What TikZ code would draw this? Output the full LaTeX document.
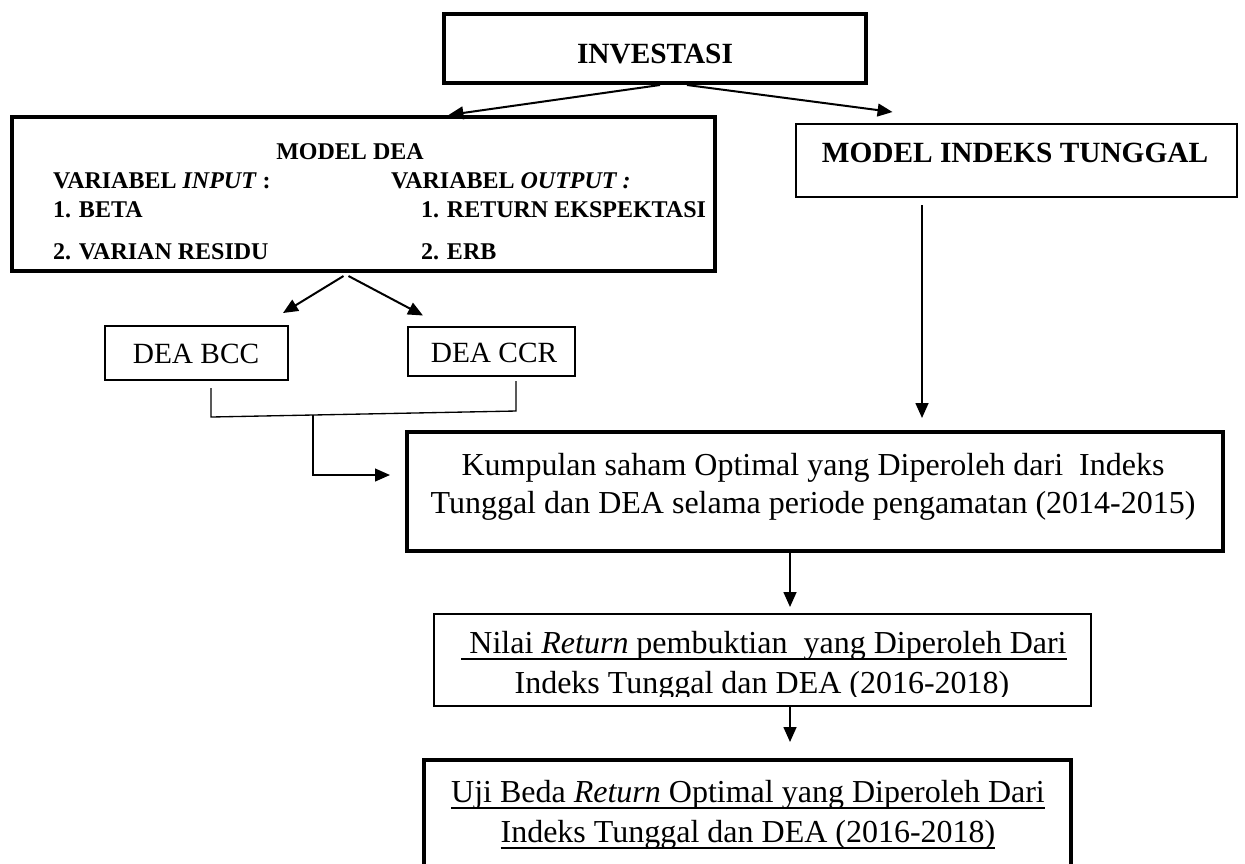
\documentclass[tikz,border=0pt]{standalone}
\usepackage{fontspec}
\setmainfont{Liberation Serif}
\newcommand{\myul}[1]{\setbox0\hbox{#1}\rlap{\vrule height -1.9pt depth 2.6pt width \wd0}\box0}
\usetikzlibrary{arrows.meta,calc}
\begin{document}
\begin{tikzpicture}[x=0.375pt,y=-0.375pt,
  thickbox/.style={draw, line width=1.75pt, inner sep=0pt, outer sep=0pt},
  thinbox/.style={draw, line width=0.85pt, inner sep=0pt, outer sep=0pt},
  lbl/.style={inner sep=0pt, outer sep=0pt, anchor=base},
  lblw/.style={inner sep=0pt, outer sep=0pt, anchor=base west},
  bigbold/.style={font=\fontsize{11}{13}\selectfont\bfseries},
  smallbold/.style={font=\fontsize{9}{11}\selectfont\bfseries},
  mid/.style={font=\fontsize{11}{13}\selectfont},
  body/.style={font=\fontsize{12}{14}\selectfont},
  arr/.style={line width=0.75pt, -{Triangle[length=5.6pt,width=4.8pt]}},
  thinline/.style={line width=0.5pt},
]
\clip (0,0) rectangle (1245,863);

% boxes
\node[thickbox, minimum width=422*0.375pt, minimum height=69*0.375pt] (inv) at (655,48.5) {};
\node[thickbox, minimum width=703*0.375pt, minimum height=154*0.375pt] (dea) at (363.5,194) {};
\node[thinbox, minimum width=441*0.375pt, minimum height=73*0.375pt] (mit) at (1016.5,160.5) {};
\node[thinbox, minimum width=183*0.375pt, minimum height=54*0.375pt] (bcc) at (196.5,353) {};
\node[thinbox, minimum width=167*0.375pt, minimum height=49*0.375pt] (ccr) at (491.5,351.5) {};
\node[thickbox, minimum width=816*0.375pt, minimum height=119*0.375pt] (kum) at (815,491.5) {};
\node[thinbox, minimum width=657*0.375pt, minimum height=92*0.375pt] (nil) at (762.5,660) {};
\node[thickbox, minimum width=647*0.375pt, minimum height=160*0.375pt] (uji) at (747.5,840) {};

% texts
\node[lbl, bigbold] (invt) at (655,63) {INVESTASI};
\node[lbl, bigbold] (mitt) at (1015,162) {MODEL INDEKS TUNGGAL};

\node[lbl, smallbold] (deat) at (350,159) {MODEL DEA};
\node[lblw, smallbold] (vin) at (53,188) {VARIABEL \textit{INPUT} :};
\node[lblw, smallbold] (vout) at (391,188) {VARIABEL \textit{OUTPUT :}};
\node[lblw, smallbold] (beta) at (53,217) {1. BETA};
\node[lblw, smallbold] (ret) at (421,217) {1. RETURN EKSPEKTASI};
\node[lblw, smallbold] (var) at (53,259) {2. VARIAN RESIDU};
\node[lblw, smallbold] (erb) at (421,259) {2. ERB};

\node[lbl, mid] (bcct) at (196,363) {DEA BCC};
\node[lbl, mid] (ccrt) at (494,362) {DEA CCR};

\node[lbl, body] (kum1) at (813,475) {Kumpulan saham Optimal yang Diperoleh dari\ \ Indeks};
\node[lbl, body] (kum2) at (813,513) {Tunggal dan DEA selama periode pengamatan (2014-2015)};

\begin{scope}
\clip (434,614) rectangle (1091,696);
\node[lbl, body] (nil1) at (764,653) {\myul{\ Nilai \textit{Return} pembuktian\ \ yang Diperoleh Dari}};
\node[lbl, body] (nil2) at (762,693) {\myul{Indeks Tunggal dan DEA (2016-2018)}};
\end{scope}

\node[lbl, body] (uji1) at (748,802) {\myul{Uji Beda \textit{Return} Optimal yang Diperoleh Dari}};
\node[lbl, body] (uji2) at (748,842) {\myul{Indeks Tunggal dan DEA (2016-2018)}};

% connectors
\draw[arr] ($(inv.south)+(5,2)$) -- ($(dea.north)+(85,-2)$);
\draw[arr] ($(inv.south)+(32,2)$) -- ($(mit.north)+(-124,-12)$);
\draw[arr] ($(dea.south)+(-20,5)$) -- ($(bcc.north)+(86.5,-13)$);
\draw[arr] ($(dea.south)+(-15,5)$) -- ($(ccr.north)+(-68.5,-11.5)$);

\coordinate (bccfoot) at ($(bcc.south)+(14.5,37)$);
\coordinate (ccrfoot) at ($(ccr.south)+(24.5,35)$);
\coordinate (junc) at ($(bccfoot)!0.335!(ccrfoot)$);
\draw[thinline] ($(bcc.south)+(14.5,8)$) -- (bccfoot) -- (ccrfoot) -- ($(ccr.south)+(24.5,5)$);
\draw[arr, line width=0.6pt] (junc) |- ($(kum.west)+(-17,-16.5)$);

\draw[arr] ($(mit.south)+(-94.5,8)$) -- ($(kum.north)+(107,-14)$);
\draw[arr] ($(kum.south)+(-25,2)$) -- ($(nil.north)+(27.5,-7)$);
\draw[arr] ($(nil.south)+(27.5,1)$) -- ($(uji.north)+(42.5,-18)$);
\end{tikzpicture}
\end{document}
